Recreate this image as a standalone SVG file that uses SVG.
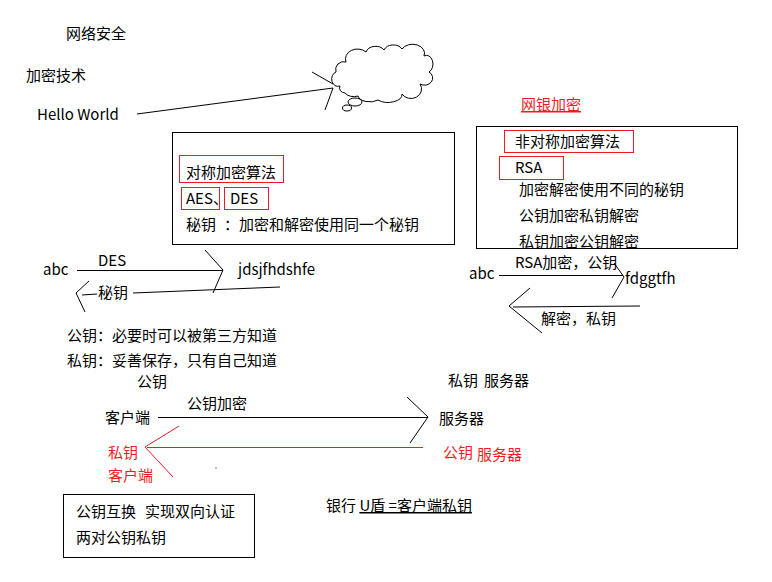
<svg xmlns="http://www.w3.org/2000/svg" width="772" height="582" viewBox="0 0 772 582">
<style>
.t{font-family:"Noto Sans CJK SC","Liberation Sans",sans-serif;font-size:15px;fill:#000}
.r{fill:#ED1C24}
.box{fill:none;stroke:#000;stroke-width:1}
.rbox{fill:none;stroke:#ED1C24;stroke-width:1}
.ln{fill:none;stroke:#000;stroke-width:1}
.rln{fill:none;stroke:#ED1C24;stroke-width:1}
</style>
<rect width="772" height="582" fill="#fff"/>
<g id="title"><text class="t" x="66" y="39">网络安全</text></g>
<g id="crypto"><text class="t" x="26" y="81">加密技术</text></g>
<g id="hello"><text class="t" x="37" y="120">Hello World</text></g>
<g id="cloud">
<path class="ln" d="M340,86 A6,7 0 0 1 336,72 A8,8 0 0 1 346,62 A12,10 0 0 1 366,52 A10,8 0 0 1 384,50 A10,8 0 0 1 402,49 A12,9 0 0 1 424,56 A6,8 0 0 1 429,72 A8,7 0 0 1 420,84 A10,9 0 0 1 402,94 A14,8 0 0 1 378,100 A12,7 0 0 1 358,96 A10,7 0 0 1 345,93 A6,5 0 0 1 340,86 Z"/>
<ellipse class="ln" cx="355" cy="102" rx="7" ry="4"/>
<ellipse class="ln" cx="347" cy="108" rx="4.5" ry="3"/>
</g>
<g id="sym-box">
<rect class="box" x="172.5" y="132.5" width="282" height="112"/>
<rect class="rbox" x="179.5" y="155.5" width="104" height="27"/>
<text class="t" x="186" y="178">对称加密算法</text>
<rect class="rbox" x="181.5" y="187.5" width="38" height="22"/>
<text class="t" x="186" y="204">AES、</text>
<rect class="rbox" x="224.5" y="187.5" width="44" height="22"/>
<text class="t" x="230" y="204">DES</text>
<text class="t" x="186" y="230">秘钥<tspan x="224">：加密和解密使用同一个秘钥</tspan></text>
</g>
<g id="bank-title"><text class="t r" x="521" y="110" text-decoration="underline">网银加密</text></g>
<g id="asym-box">
<rect class="box" x="476.5" y="126.5" width="261" height="122"/>
<rect class="rbox" x="504.5" y="130.5" width="129" height="22"/>
<text class="t" x="515" y="147">非对称加密算法</text>
<rect class="rbox" x="499.5" y="156.5" width="64" height="23"/>
<text class="t" x="515" y="173">RSA</text>
<text class="t" x="519" y="195">加密解密使用不同的秘钥</text>
<text class="t" x="519" y="221">公钥加密私钥解密</text>
<text class="t" x="519" y="247">私钥加密公钥解密</text>
</g>
<g id="des-abc"><text class="t" x="43" y="275">abc</text></g>
<g id="des-cipher"><text class="t" x="238" y="275">jdsjfhdshfe</text></g>
<g id="keys-note">
<text class="t" x="67" y="341">公钥：必要时可以被第三方知道</text>
<text class="t" x="67" y="366">私钥：妥善保存，只有自己知道</text>
</g>
<g id="rsa-abc"><text class="t" x="469" y="279">abc</text></g>
<g id="rsa-cipher"><text class="t" x="625" y="284">fdggtfh</text></g>
<g id="client-pub"><text class="t" x="137" y="387">公钥</text></g>
<g id="server-priv"><text class="t" x="448" y="386">私钥<tspan x="484">服务器</tspan></text></g>
<g id="client"><text class="t" x="105" y="423">客户端</text></g>
<g id="server"><text class="t" x="439" y="424">服务器</text></g>
<g id="client-priv">
<text class="t r" x="108" y="458">私钥</text>
<text class="t r" x="108" y="481">客户端</text>
</g>
<g id="server-pub"><text class="t r" x="443" y="458">公钥<tspan x="477" y="460">服务器</tspan></text></g>
<g id="mutual-box">
<rect class="box" x="63.5" y="494.5" width="191" height="63"/>
<text class="t" x="76" y="517">公钥互换<tspan x="145">实现双向认证</tspan></text>
<text class="t" x="76" y="543">两对公钥私钥</text>
</g>
<g id="ukey"><text class="t" x="326" y="511">银行 <tspan text-decoration="underline">U盾 =客户端私钥</tspan></text></g>
<g id="connectors">
<line class="ln" x1="137" y1="114" x2="333" y2="88"/>
<polyline class="ln" points="312,72 333,84"/>
<polyline class="ln" points="325,110 333,88"/>
<line class="ln" x1="77" y1="270.5" x2="223" y2="270.5"/>
<text class="t" x="98" y="266">DES</text>
<polyline class="ln" points="205,250 223,270 213,293"/>
<polyline class="ln" points="280,287 133,293"/>
<polyline class="ln" points="82,295 97,294"/>
<text class="t" x="98" y="298">秘钥</text>
<polyline class="ln" points="89,281 76,293 85,312"/>
<line class="ln" x1="499" y1="275.5" x2="623" y2="275.5"/>
<text class="t" x="515" y="268">RSA加密，公钥</text>
<polyline class="ln" points="614,263 624,277 612,298"/>
<polyline class="ln" points="513,307 640,306"/>
<polyline class="ln" points="530,288 509,306 542,333"/>
<text class="t" x="541" y="324">解密，私钥</text>
<line class="ln" x1="158" y1="417.5" x2="428" y2="417.5"/>
<text class="t" x="187" y="409">公钥加密</text>
<polyline class="ln" points="407,397 428,417 410,443"/>
<line class="rln" x1="147" y1="447.5" x2="423" y2="447.5"/>
<polyline class="rln" points="179,426 145,447 173,477"/>
<rect x="215.5" y="467.5" width="1" height="1" fill="#000"/>
</g>
</svg>
